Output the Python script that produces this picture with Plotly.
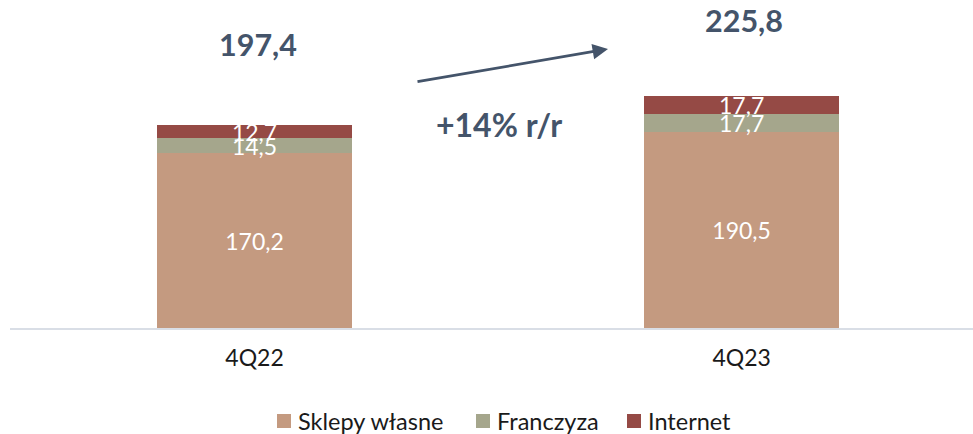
import plotly.graph_objects as go

# Sales structure by channel (PLN m)
quarters = ["4Q22", "4Q23"]
series_names = ["Sklepy własne", "Franczyza", "Internet"]
own_stores = [170.2, 190.5]
franchise = [14.5, 17.7]
internet = [12.7, 17.7]
totals = [197.4, 225.8]

series_values = [own_stores, franchise, internet]
series_colors = ["#C49A80", "#A5A68C", "#954A45"]

W, H = 973, 434
ML, MR, MT, MB = 10, 0, 0, 106
PW, PH = W - ML - MR, H - MT - MB
FONT = "Lato"
DARK = "#44546A"


def px_x(px):
    return (px - ML) / PW


def px_y(py):
    return (H - MB - py) / PH


fig = go.Figure()
for name, vals, col in zip(series_names, series_values, series_colors):
    fig.add_trace(go.Bar(
        x=quarters, y=vals, name=name,
        marker=dict(color=col, line=dict(width=0)),
        width=0.4,
        texttemplate="%{y:.1f}",
        textposition="inside",
        insidetextanchor="middle",
        textangle=0,
        constraintext="none",
        textfont=dict(family=FONT, size=23, color="white"),
        cliponaxis=False,
        showlegend=False,
    ))

annotations = []
# totals above each bar
for q, t, ys, xs in zip(quarters, totals, [81, 76], [3, 2]):
    annotations.append(dict(
        x=q, y=t, xref="x", yref="y", text=f"{t:.1f}".replace(".", ","),
        showarrow=False, yanchor="middle", xanchor="center",
        yshift=ys, xshift=xs,
        font=dict(family=FONT, size=30.5, color=DARK, weight="bold"),
    ))

# year-over-year growth
growth = round((totals[1] / totals[0] - 1) * 100)
annotations.append(dict(
    x=px_x(499), y=px_y(124), xref="paper", yref="paper",
    text=f"+{growth}% r/r", showarrow=False,
    xanchor="center", yanchor="middle",
    font=dict(family=FONT, size=32, color=DARK, weight="bold"),
))
annotations.append(dict(
    x=px_x(608), y=px_y(49), xref="paper", yref="paper",
    text="", showarrow=True, ax=416 - 608, ay=82 - 49,
    axref="pixel", ayref="pixel",
    arrowhead=2, arrowsize=1.1, arrowwidth=2.8, arrowcolor=DARK,
    standoff=0, startstandoff=0,
))

# legend
shapes = []
legend_x = [277, 476, 627]
for name, col, lx in zip(series_names, series_colors, legend_x):
    shapes.append(dict(
        type="rect", xref="paper", yref="paper",
        x0=px_x(lx), x1=px_x(lx + 14), y0=px_y(428), y1=px_y(414),
        fillcolor=col, line=dict(width=0),
    ))
    annotations.append(dict(
        x=px_x(lx + 19), y=px_y(421), xref="paper", yref="paper",
        text=name, showarrow=False, xanchor="left", yanchor="middle",
        font=dict(family=FONT, size=23.5, color="#1A1A1A"),
    ))

fig.update_layout(
    width=W, height=H,
    margin=dict(l=ML, r=MR, t=MT, b=MB, pad=0),
    barmode="stack",
    bargap=0.6,
    plot_bgcolor="white", paper_bgcolor="white",
    separators=", ",
    font=dict(family=FONT),
    annotations=annotations,
    shapes=shapes,
    xaxis=dict(
        type="category", range=[-0.502, 1.475],
        showline=True, linecolor="#D9DEE6", linewidth=2,
        showgrid=False, zeroline=False, ticks="",
        tickfont=dict(family=FONT, size=23, color="#1A1A1A"),
        ticklabelstandoff=8,
    ),
    yaxis=dict(
        range=[0, PH / 1.028], visible=False, showgrid=False, zeroline=False,
    ),
)

fig.write_html("out.html")
